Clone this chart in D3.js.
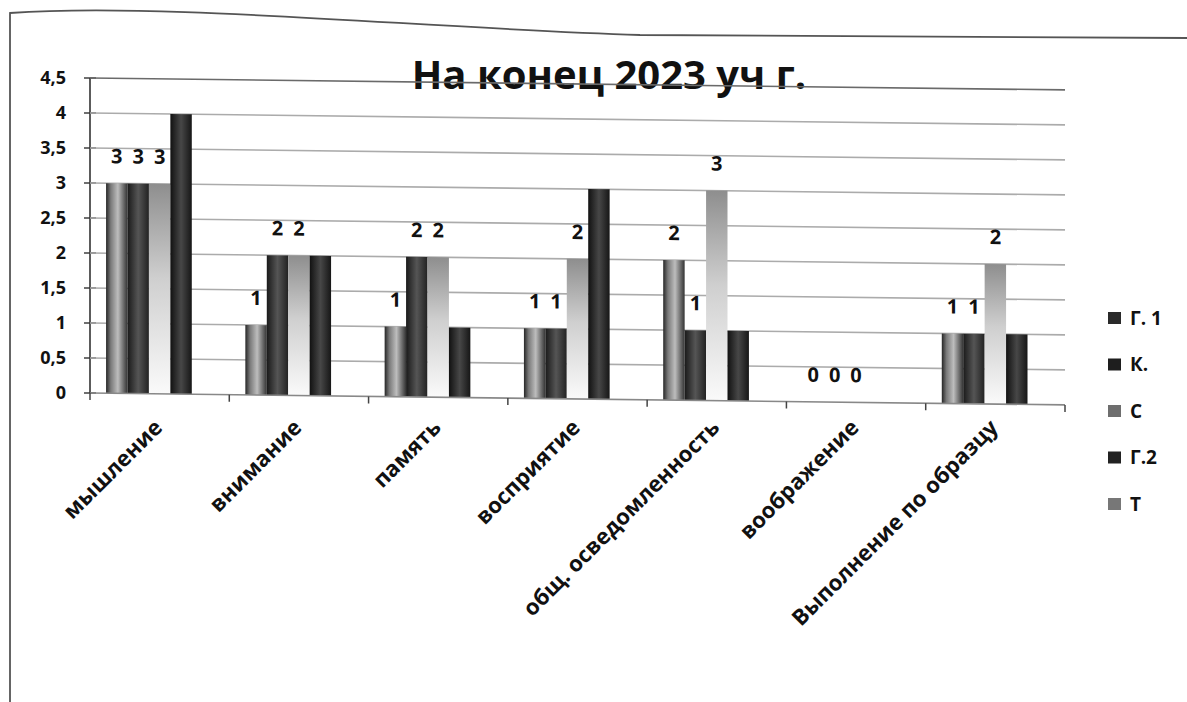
<!DOCTYPE html>
<html lang="ru">
<head>
<meta charset="utf-8">
<title>На конец 2023 уч г.</title>
<style>
  body { margin: 0; background: #fff; }
  svg text { font-family: "Open Sans", "Lato", sans-serif; font-weight: 700; fill: #111; }
</style>
</head>
<body>
<div id="chart"></div>
<script src="https://d3js.org/d3.v7.min.js"></script>
<script>
// data
var categories = ["мышление", "внимание", "память", "восприятие",
                  "общ. осведомленность", "воображение", "Выполнение по образцу"];
var seriesNames = ["Г. 1", "К.", "С", "Г.2", "Т"];
var g1Values = [3, 1, 1, 1, 2, 0, 1];
var kValues  = [3, 2, 2, 1, 1, 0, 1];
var cValues  = [3, 2, 2, 2, 3, 0, 2];
var g2Values = [4, 2, 1, 3, 1, 0, 1];
var tValues  = [0, 0, 0, 0, 0, 0, 0];
var labelled = ["Г. 1", "К.", "С"];   // only these carry data labels
var yTicks = [0, 0.5, 1, 1.5, 2, 2.5, 3, 3.5, 4, 4.5];

var seriesValues = [g1Values, kValues, cValues, g2Values, tValues];

var width = 1187, height = 702,
    margin = {left: 90, top: 78},
    plotW = 975, plotH = 315;

var svg = d3.select("#chart").append("svg")
    .attr("width", width).attr("height", height);

// bar fills (grey scan of the excel gradient bars)
var defs = svg.append("defs");
var fills = [
  {id: "fg1", stops: [["0%", "#262626"], ["22%", "#7a7a7a"], ["55%", "#bdbdbd"], ["100%", "#333"]], vertical: false},
  {id: "fk",  stops: [["0%", "#1a1a1a"], ["50%", "#555"], ["100%", "#222"]], vertical: false},
  {id: "fc",  stops: [["0%", "#8e8e8e"], ["45%", "#cfcfcf"], ["100%", "#fafafa"]], vertical: true},
  {id: "fg2", stops: [["0%", "#111"], ["50%", "#474747"], ["100%", "#161616"]], vertical: false},
  {id: "ft",  stops: [["0%", "#f4f4f4"], ["100%", "#ffffff"]], vertical: true}
];
fills.forEach(function(f) {
  var lg = defs.append("linearGradient").attr("id", f.id)
      .attr("x1", 0).attr("y1", 0)
      .attr("x2", f.vertical ? 0 : 1).attr("y2", f.vertical ? 1 : 0);
  f.stops.forEach(function(s) {
    lg.append("stop").attr("offset", s[0]).attr("stop-color", s[1]);
  });
});
var legendColors = ["#2a2a2a", "#1e1e1e", "#6e6e6e", "#222", "#777"];

// page border of the scan
svg.append("path")
   .attr("d", "M10,702 L10,13 C160,2 420,28 640,35 L1187,38")
   .attr("fill", "none").attr("stroke", "#555").attr("stroke-width", 1.8);

// title
svg.append("text")
   .attr("x", 609).attr("y", 89)
   .attr("text-anchor", "middle")
   .style("font-size", "40px")
   .text("На конец 2023 уч г.");

var x0 = d3.scaleBand().domain(categories).range([0, plotW]).paddingInner(0).paddingOuter(0);
var x1 = d3.scaleBand().domain(seriesNames).range([0, x0.bandwidth()])
           .paddingInner(0).paddingOuter(0.75);
var y = d3.scaleLinear().domain([0, 4.5]).range([plotH, 0]);

// y tick labels (not skewed)
var yAxis = svg.append("g").attr("transform", "translate(" + margin.left + "," + margin.top + ")");
yAxis.selectAll("text.ylab").data(yTicks).enter().append("text")
     .attr("class", "ylab")
     .attr("x", -24).attr("y", function(d) { return y(d); })
     .attr("dy", "0.35em")
     .attr("text-anchor", "end")
     .style("font-size", "18px")
     .text(function(d) { return d3.format(".1~f")(d).replace(".", ","); });

// plot area, slightly skewed like the photographed page
var plot = svg.append("g")
    .attr("transform", "translate(" + margin.left + "," + margin.top + ") skewY(0.7)");

plot.selectAll("line.grid").data(yTicks.slice(1)).enter().append("line")
    .attr("class", "grid")
    .attr("x1", 0).attr("x2", plotW)
    .attr("y1", function(d) { return y(d); }).attr("y2", function(d) { return y(d); })
    .attr("stroke", function(d) { return d === 4.5 ? "#6a6a6a" : "#ababab"; })
    .attr("stroke-width", 1.6);

// bars
seriesNames.forEach(function(name, si) {
  var vals = seriesValues[si];
  plot.append("g").selectAll("rect").data(categories).enter().append("rect")
      .attr("x", function(c) { return x0(c) + x1(name); })
      .attr("width", x1.bandwidth())
      .attr("y", function(c, i) { return y(vals[i]); })
      .attr("height", function(c, i) { return y(0) - y(vals[i]); })
      .attr("fill", "url(#" + fills[si].id + ")");
});

// data labels
labelled.forEach(function(name) {
  var vals = seriesValues[seriesNames.indexOf(name)];
  plot.append("g").selectAll("text").data(categories).enter().append("text")
      .attr("x", function(c) { return x0(c) + x1(name) + x1.bandwidth() / 2; })
      .attr("y", function(c, i) { return y(vals[i]) - 20; })
      .attr("text-anchor", "middle")
      .style("font-size", "20px")
      .text(function(c, i) { return vals[i]; });
});

// axes lines
plot.append("line").attr("x1", 0).attr("x2", plotW).attr("y1", y(0)).attr("y2", y(0))
    .attr("stroke", "#888").attr("stroke-width", 1.6);
plot.selectAll("line.xtick").data(categories.concat([null])).enter().append("line")
    .attr("class", "xtick")
    .attr("x1", function(c, i) { return i * x0.step(); })
    .attr("x2", function(c, i) { return i * x0.step(); })
    .attr("y1", y(0)).attr("y2", y(0) + 7)
    .attr("stroke", "#444").attr("stroke-width", 1.5);

yAxis.append("line").attr("x1", 0).attr("x2", 0).attr("y1", 0).attr("y2", plotH)
     .attr("stroke", "#333").attr("stroke-width", 1.6);
yAxis.selectAll("line.ytick").data(yTicks).enter().append("line")
     .attr("class", "ytick")
     .attr("x1", -6).attr("x2", 6)
     .attr("y1", function(d) { return y(d); }).attr("y2", function(d) { return y(d); })
     .attr("stroke", "#333").attr("stroke-width", 1.4);

// category labels, rotated
svg.append("g").selectAll("text").data(categories).enter().append("text")
   .attr("transform", function(c) {
     var cx = margin.left + x0(c) + x0.bandwidth() / 2 + 4;
     return "translate(" + cx + "," + (margin.top + plotH + 36) + ") rotate(-45)";
   })
   .attr("text-anchor", "end")
   .style("font-size", "22px")
   .text(function(c) { return c; });

// legend
var legend = svg.append("g").attr("transform", "translate(1108,318)");
seriesNames.forEach(function(name, i) {
  var row = legend.append("g").attr("transform", "translate(0," + (i * 46.5) + ")");
  row.append("rect").attr("x", 0).attr("y", -6).attr("width", 13).attr("height", 12)
     .attr("fill", legendColors[i]);
  row.append("text").attr("x", 22).attr("y", 0).attr("dy", "0.35em")
     .style("font-size", "19px").text(name);
});
</script>
</body>
</html>
